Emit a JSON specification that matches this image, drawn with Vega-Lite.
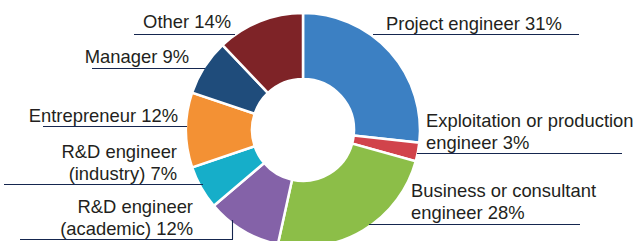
{
  "$schema": "https://vega.github.io/schema/vega-lite/v6.json",
  "width": 638,
  "height": 241,
  "autosize": {"type": "none"},
  "padding": 0,
  "background": "white",
  "config": {"view": {"stroke": null}},
  "datasets": {
    "slices": [
      {"idx": 1, "job": "Project engineer", "pct": 31},
      {"idx": 2, "job": "Exploitation or production engineer", "pct": 3},
      {"idx": 3, "job": "Business or consultant engineer", "pct": 28},
      {"idx": 4, "job": "R&D engineer (academic)", "pct": 12},
      {"idx": 5, "job": "R&D engineer (industry)", "pct": 7},
      {"idx": 6, "job": "Entrepreneur", "pct": 12},
      {"idx": 7, "job": "Manager", "pct": 9},
      {"idx": 8, "job": "Other", "pct": 14}
    ],
    "labels": [
      {"side": "right", "label": "Project engineer 31%", "lx": 83, "ly": 100},
      {"side": "right", "label": "Exploitation or production\nengineer 3%", "lx": 123, "ly": 3},
      {"side": "right", "label": "Business or consultant\nengineer 28%", "lx": 108, "ly": -67},
      {"side": "left", "label": "R&D engineer\n(academic) 12%", "lx": -110, "ly": -83},
      {"side": "left", "label": "R&D engineer\n(industry) 7%", "lx": -126, "ly": -28},
      {"side": "left", "label": "Entrepreneur 12%", "lx": -125, "ly": 8},
      {"side": "left", "label": "Manager 9%", "lx": -114, "ly": 67},
      {"side": "left", "label": "Other 14%", "lx": -72, "ly": 102}
    ],
    "lines": [
      {"x1": 70, "x2": 276, "y1": 95.5, "y2": 95.5},
      {"x1": 114, "x2": 319, "y1": -23.5, "y2": -23.5},
      {"x1": 66, "x2": 277, "y1": -94.5, "y2": -94.5},
      {"x1": -283, "x2": -70, "y1": -109.5, "y2": -109.5},
      {"x1": -70.5, "x2": -70.5, "y1": -90, "y2": -109.5},
      {"x1": -299, "x2": -100, "y1": -54.5, "y2": -54.5},
      {"x1": -260, "x2": -116, "y1": 3.5, "y2": 3.5},
      {"x1": -211, "x2": -98, "y1": 61.5, "y2": 61.5},
      {"x1": -169, "x2": -68, "y1": 95.5, "y2": 95.5}
    ]
  },
  "layer": [
    {
      "data": {"name": "slices"},
      "mark": {"type": "arc", "radius": 117, "radius2": 51, "stroke": "white", "strokeWidth": 2.5},
      "encoding": {
        "x": {"datum": 0, "type": "quantitative", "scale": {"domain": [-303, 335], "nice": false, "zero": false}, "axis": null},
        "y": {"datum": 0, "type": "quantitative", "scale": {"domain": [-111, 130], "nice": false, "zero": false}, "axis": null},
        "theta": {"field": "pct", "type": "quantitative", "stack": true},
        "order": {"field": "idx", "type": "quantitative"},
        "color": {
          "field": "job", "type": "nominal", "legend": null,
          "scale": {
            "domain": ["Project engineer", "Exploitation or production engineer", "Business or consultant engineer", "R&D engineer (academic)", "R&D engineer (industry)", "Entrepreneur", "Manager", "Other"],
            "range": ["#3c80c3", "#d1434b", "#8cbe48", "#8462a8", "#16aec9", "#f39134", "#1f4c7b", "#7e2327"]
          }
        }
      }
    },
    {
      "data": {"name": "lines"},
      "mark": {"type": "rule", "color": "#15264f", "strokeWidth": 1.1},
      "encoding": {
        "x": {"field": "x1", "type": "quantitative", "scale": {"domain": [-303, 335], "nice": false, "zero": false}, "axis": null},
        "x2": {"field": "x2"},
        "y": {"field": "y1", "type": "quantitative", "scale": {"domain": [-111, 130], "nice": false, "zero": false}, "axis": null},
        "y2": {"field": "y2"}
      }
    },
    {
      "data": {"name": "labels"},
      "transform": [{"filter": "datum.side === 'right'"}],
      "mark": {"type": "text", "align": "left", "baseline": "alphabetic", "font": "Liberation Sans", "fontSize": 18.4, "lineHeight": 21.5, "lineBreak": "\n", "color": "#231f20"},
      "encoding": {
        "x": {"field": "lx", "type": "quantitative", "scale": {"domain": [-303, 335], "nice": false, "zero": false}, "axis": null},
        "y": {"field": "ly", "type": "quantitative", "scale": {"domain": [-111, 130], "nice": false, "zero": false}, "axis": null},
        "text": {"field": "label", "type": "nominal"}
      }
    },
    {
      "data": {"name": "labels"},
      "transform": [{"filter": "datum.side === 'left'"}],
      "mark": {"type": "text", "align": "right", "baseline": "alphabetic", "font": "Liberation Sans", "fontSize": 18.4, "lineHeight": 21.5, "lineBreak": "\n", "color": "#231f20"},
      "encoding": {
        "x": {"field": "lx", "type": "quantitative", "scale": {"domain": [-303, 335], "nice": false, "zero": false}, "axis": null},
        "y": {"field": "ly", "type": "quantitative", "scale": {"domain": [-111, 130], "nice": false, "zero": false}, "axis": null},
        "text": {"field": "label", "type": "nominal"}
      }
    }
  ]
}
